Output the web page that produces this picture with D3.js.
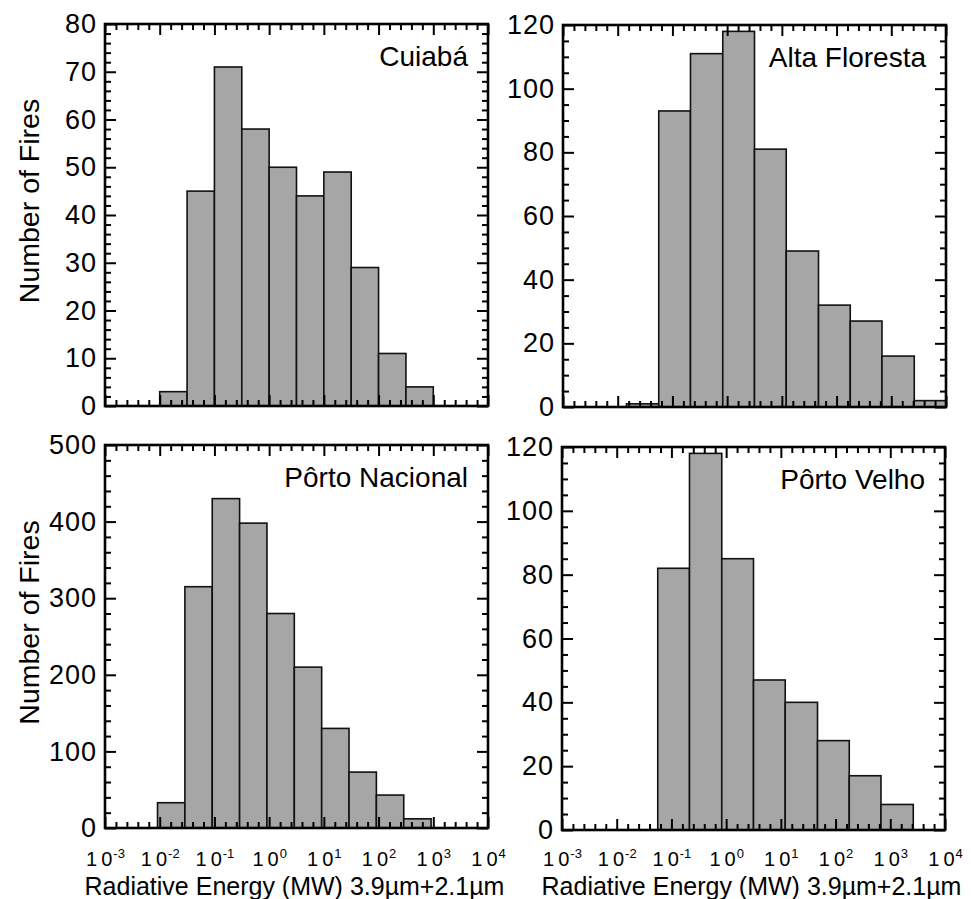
<!DOCTYPE html>
<html>
<head>
<meta charset="utf-8">
<script src="https://cdn.jsdelivr.net/npm/d3@7"></script>
<style>
  html, body { margin: 0; padding: 0; background: #fff; }
  svg { display: block; }
  text { font-family: "Liberation Sans", Arial, Helvetica, sans-serif; fill: #000; }
</style>
</head>
<body>
<svg id="chart" width="971" height="899"></svg>
<script>
// ---- Data (bin edges are log10 of radiative energy in MW) ----
const panelNames = ["Cuiabá", "Alta Floresta", "Pôrto Nacional", "Pôrto Velho"];

const cuiabaEdges = [-2, -1.5, -1, -0.5, 0, 0.5, 1, 1.5, 2, 2.5, 3];
const cuiabaCounts = [3, 45, 71, 58, 50, 44, 49, 29, 11, 4];

const altaEdges = [-1.84, -1.25, -0.67, -0.08, 0.50, 1.08, 1.67, 2.25, 2.83, 3.42, 4.00];
const altaCounts = [1, 93, 111, 118, 81, 49, 32, 27, 16, 2];

const nacionalEdges = [-2.04, -1.54, -1.04, -0.54, -0.04, 0.46, 0.96, 1.46, 1.96, 2.46, 2.96];
const nacionalCounts = [33, 315, 430, 398, 280, 210, 130, 73, 43, 12];

const velhoEdges = [-1.25, -0.67, -0.08, 0.50, 1.08, 1.67, 2.25, 2.83, 3.42];
const velhoCounts = [82, 118, 85, 47, 40, 28, 17, 8];

const xTickExponents = [-3, -2, -1, 0, 1, 2, 3, 4];
const cuiabaYTicks = [0, 10, 20, 30, 40, 50, 60, 70, 80];
const altaYTicks = [0, 20, 40, 60, 80, 100, 120];
const nacionalYTicks = [0, 100, 200, 300, 400, 500];
const velhoYTicks = [0, 20, 40, 60, 80, 100, 120];

const yLabel = "Number of Fires";
const xLabel = "Radiative Energy (MW) 3.9\u00b5m+2.1\u00b5m";

// ---- Layout ----
const svg = d3.select("#chart");
const FONT = 27;

const panels = [
  { name: panelNames[0], edges: cuiabaEdges, counts: cuiabaCounts, yTicks: cuiabaYTicks, minorStep: 2,
    x0: 105, x1: 488, y0: 24, y1: 406, ylab: true, xlab: false },
  { name: panelNames[1], edges: altaEdges, counts: altaCounts, yTicks: altaYTicks, minorStep: 5,
    x0: 563, x1: 946, y0: 25, y1: 407, ylab: false, xlab: false },
  { name: panelNames[2], edges: nacionalEdges, counts: nacionalCounts, yTicks: nacionalYTicks, minorStep: 20,
    x0: 105, x1: 488, y0: 445, y1: 828, ylab: true, xlab: true },
  { name: panelNames[3], edges: velhoEdges, counts: velhoCounts, yTicks: velhoYTicks, minorStep: 5,
    x0: 562, x1: 945, y0: 447, y1: 830, ylab: false, xlab: true }
];

const xMajor = xTickExponents.map(e => Math.pow(10, e));
const xMinor = [];
xTickExponents.slice(0, -1).forEach(e => {
  for (let k = 1; k < 5; k++) xMinor.push(Math.pow(10, e + k * 0.2));
});

panels.forEach(p => {
  const x = d3.scaleLog().domain([1e-3, 1e4]).range([p.x0, p.x1]);
  const yMax = p.yTicks[p.yTicks.length - 1];
  const y = d3.scaleLinear().domain([0, yMax]).range([p.y1, p.y0]);
  const yMinor = d3.range(0, yMax + 0.001, p.minorStep).filter(v => !p.yTicks.includes(v));

  const g = svg.append("g");

  // bars
  const bins = p.counts.map((c, i) => ({ lo: p.edges[i], hi: p.edges[i + 1], c }));
  g.append("g").selectAll("rect").data(bins).join("rect")
    .attr("x", d => x(Math.pow(10, d.lo)))
    .attr("width", d => x(Math.pow(10, d.hi)) - x(Math.pow(10, d.lo)))
    .attr("y", d => y(d.c))
    .attr("height", d => y(0) - y(d.c))
    .attr("fill", "#a6a6a6")
    .attr("stroke", "#111")
    .attr("stroke-width", 1.6);

  const styleAxis = sel => {
    sel.select(".domain").remove();
    sel.selectAll(".tick line").attr("stroke", "#000").attr("stroke-width", 2);
  };

  // left axis
  g.append("g").attr("transform", `translate(${p.x0},0)`)
    .call(d3.axisLeft(y).tickValues(yMinor).tickSize(-6).tickFormat(""))
    .call(styleAxis);
  const la = g.append("g").attr("transform", `translate(${p.x0},0)`)
    .call(d3.axisLeft(y).tickValues(p.yTicks).tickSize(-11).tickPadding(8).tickFormat(d3.format("d")))
    .call(styleAxis);
  la.selectAll(".tick text").attr("font-size", FONT).attr("letter-spacing", 1)
    .attr("font-family", '"Liberation Sans", Arial, sans-serif').attr("fill", "#000");

  // right axis
  g.append("g").attr("transform", `translate(${p.x1},0)`)
    .call(d3.axisRight(y).tickValues(yMinor).tickSize(-6).tickFormat(""))
    .call(styleAxis);
  g.append("g").attr("transform", `translate(${p.x1},0)`)
    .call(d3.axisRight(y).tickValues(p.yTicks).tickSize(-11).tickFormat(""))
    .call(styleAxis);

  // top axis
  g.append("g").attr("transform", `translate(0,${p.y0})`)
    .call(d3.axisTop(x).tickValues(xMinor).tickSize(-6).tickFormat(""))
    .call(styleAxis);
  g.append("g").attr("transform", `translate(0,${p.y0})`)
    .call(d3.axisTop(x).tickValues(xMajor).tickSize(-11).tickFormat(""))
    .call(styleAxis);

  // bottom axis
  g.append("g").attr("transform", `translate(0,${p.y1})`)
    .call(d3.axisBottom(x).tickValues(xMinor).tickSize(-6).tickFormat(""))
    .call(styleAxis);
  const ba = g.append("g").attr("transform", `translate(0,${p.y1})`)
    .call(d3.axisBottom(x).tickValues(xMajor).tickSize(-11).tickFormat(""))
    .call(styleAxis);

  if (p.xlab) {
    ba.selectAll(".tick").each(function(d) {
      const t = d3.select(this).append("text")
        .attr("y", 866 - p.y1)
        .attr("text-anchor", "middle")
        .attr("font-size", 20)
        .attr("fill", "#000");
      t.append("tspan").text("1");
      t.append("tspan").text("0").attr("dx", 4);
      t.append("tspan").text(String(Math.round(Math.log10(d))))
        .attr("font-size", 13).attr("dy", -8).attr("dx", 1);
    });
    g.append("text")
      .attr("x", (p.x0 + p.x1) / 2 - 2)
      .attr("y", 895)
      .attr("text-anchor", "middle")
      .attr("font-size", 25)
      .text(xLabel);
  }

  // frame
  g.append("rect")
    .attr("x", p.x0).attr("y", p.y0)
    .attr("width", p.x1 - p.x0).attr("height", p.y1 - p.y0)
    .attr("fill", "none").attr("stroke", "#000").attr("stroke-width", 2.6);

  // panel title
  g.append("text")
    .attr("x", p.x1 - 20)
    .attr("y", p.y0 + 42)
    .attr("text-anchor", "end")
    .attr("font-size", 28)
    .text(p.name);

  if (p.ylab) {
    g.append("text")
      .attr("transform", `translate(39,${(p.y0 + p.y1) / 2 - 14}) rotate(-90)`)
      .attr("text-anchor", "middle")
      .attr("font-size", 28.5)
      .text(yLabel);
  }
});
</script>
</body>
</html>
